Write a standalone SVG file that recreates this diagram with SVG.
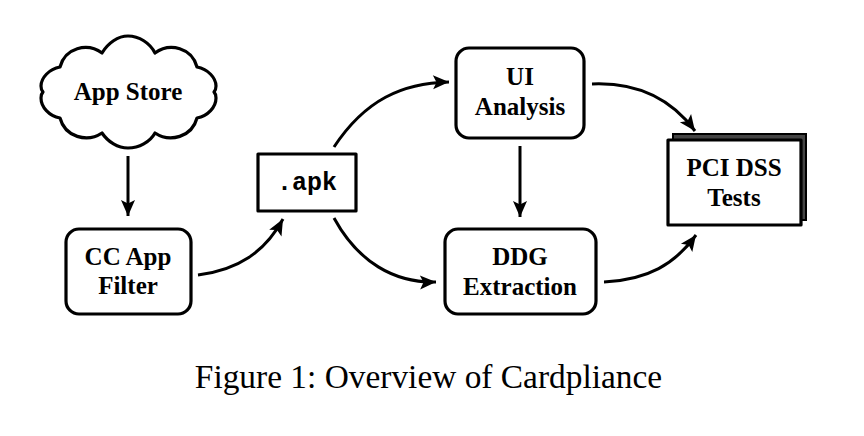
<svg xmlns="http://www.w3.org/2000/svg" width="864" height="436" viewBox="0 0 864 436">
<style>
.n{fill:#fff;stroke:#000;stroke-width:3.2;stroke-linejoin:round}
.t{font-family:"Liberation Serif","Times New Roman",serif;font-weight:bold;font-size:25px;text-anchor:middle;fill:#000}
.c{fill:none;stroke:#000;stroke-width:3;stroke-linecap:butt}
</style>
<defs>
<marker id="a" markerUnits="userSpaceOnUse" markerWidth="24" markerHeight="20" refX="16" refY="7" orient="auto" overflow="visible">
<path d="M0 0L16 7L0 14L3.500 7Z" fill="#000"/>
</marker>
</defs>
<rect width="864" height="436" fill="#fff"/>
<g id="connectors">
<path class="c" marker-end="url(#a)" d="M128 156V216"/>
<path class="c" marker-end="url(#a)" d="M198 275C238 270 265 252 283 219"/>
<path class="c" marker-end="url(#a)" d="M334 147C365 100 402 83 449 82"/>
<path class="c" marker-end="url(#a)" d="M334 218C358 262 394 283 436 282"/>
<path class="c" marker-end="url(#a)" d="M520 146V217"/>
<path class="c" marker-end="url(#a)" d="M592 84C640 82 672 100 695 131"/>
<path class="c" marker-end="url(#a)" d="M604 282C648 280 675 264 696 235"/>
</g>
<g id="app-store">
<path class="n" d="M102 53C108 43 118 36 128 36C139 36 150 43 155 53C170 42 192 48 197 67C208 69 216 78 216 86C216 89 215 91 214 92C215 93 216 95 216 98C216 107 208 116 197 118C192 137 170 143 155 133C150 142 139 148 128 148C118 148 108 142 102 133C87 143 65 137 60 118C49 116 41 107 41 98C41 95 42 93 43 92C42 91 41 89 41 86C41 78 49 69 60 67C65 48 87 42 102 53Z"/>
<text class="t" x="128" y="100">App Store</text>
</g>
<g id="cc-app-filter">
<rect class="n" x="66" y="229" width="125" height="85" rx="13"/>
<text class="t" x="128" y="265">CC App</text>
<text class="t" x="128" y="294">Filter</text>
</g>
<g id="apk">
<rect class="n" x="258" y="154" width="98" height="57"/>
<text x="307" y="190" font-family="'Liberation Mono','Courier New',monospace" font-weight="bold" font-size="25" text-anchor="middle">.apk</text>
</g>
<g id="ui-analysis">
<rect class="n" x="456" y="48" width="128" height="90" rx="13"/>
<text class="t" x="520" y="85">UI</text>
<text class="t" x="520" y="115">Analysis</text>
</g>
<g id="ddg-extraction">
<rect class="n" x="445" y="229" width="151" height="85" rx="13"/>
<text class="t" x="520" y="265">DDG</text>
<text class="t" x="520" y="295">Extraction</text>
</g>
<g id="pci-dss-tests">
<rect x="673" y="134" width="133" height="86" fill="#444" stroke="#000" stroke-width="2"/>
<rect class="n" x="668" y="140" width="133" height="85"/>
<text class="t" x="734" y="176">PCI DSS</text>
<text class="t" x="734" y="206">Tests</text>
</g>
<text x="428.500" y="388" font-family="'Liberation Serif','Times New Roman',serif" font-size="33.400" text-anchor="middle">Figure 1: Overview of Cardpliance</text>
</svg>
